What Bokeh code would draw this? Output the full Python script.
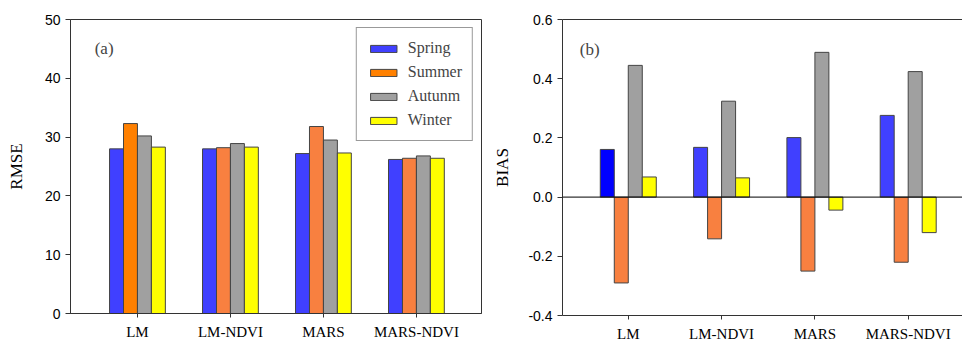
import numpy as np
from bokeh.plotting import figure
from bokeh.layouts import row
from bokeh.models import (Range1d, FixedTicker, Label, Span, ColumnDataSource,
                          Legend, LegendItem, LinearAxis, NumeralTickFormatter)
from bokeh.embed import file_html
from bokeh.resources import INLINE

# ---------------- data ----------------
models = ["LM", "LM-NDVI", "MARS", "MARS-NDVI"]
seasons = ["Spring", "Summer", "Autunm", "Winter"]

rmse_spring = [28.0, 28.0, 27.2, 26.2]
rmse_summer = [32.3, 28.2, 31.8, 26.4]
rmse_autumn = [30.2, 28.9, 29.5, 26.8]
rmse_winter = [28.3, 28.3, 27.3, 26.4]

bias_spring = [0.161, 0.168, 0.201, 0.276]
bias_summer = [-0.290, -0.141, -0.250, -0.220]
bias_autumn = [0.445, 0.324, 0.489, 0.424]
bias_winter = [0.068, 0.065, -0.044, -0.120]

rmse_ticks = [0, 10, 20, 30, 40, 50]
bias_ticks = [-0.4, -0.2, 0.0, 0.2, 0.4, 0.6]

# colours (per bar, the reference has slight shade differences)
spring_rmse_colors = ["#4040FF", "#4040FF", "#4040FF", "#4040FF"]
summer_rmse_colors = ["#FF8000", "#F88040", "#F88040", "#F88040"]
spring_bias_colors = ["#0000FF", "#4040FF", "#4040FF", "#4040FF"]
summer_bias_colors = ["#F88040", "#F88040", "#F88040", "#F88040"]
autumn_color = "#A0A0A0"
winter_color = "#FFFF00"

SERIF = "Liberation Serif"
SANS = "Liberation Sans"
BAR_W = 0.15
OFFSETS = [-0.225, -0.075, 0.075, 0.225]
xpos = np.arange(1, len(models) + 1)


def style(p, yticks, fmt=None):
    p.xgrid.visible = False
    p.ygrid.visible = False
    p.background_fill_color = "white"
    p.border_fill_color = "white"
    for ax in (p.xaxis[0], p.yaxis[0]):
        ax.axis_line_color = "#333333"
        ax.major_tick_line_color = "#333333"
        ax.minor_tick_line_color = None
        ax.major_tick_in = 0
    p.xaxis.ticker = FixedTicker(ticks=list(xpos))
    p.xaxis.major_label_overrides = {int(i): m for i, m in zip(xpos, models)}
    p.xaxis.major_label_text_font = SERIF
    p.xaxis.major_label_text_font_size = "15px"
    p.xaxis.major_label_text_font_style = "normal"
    p.xaxis.major_label_text_color = "black"
    p.xaxis.major_tick_out = 4
    p.xaxis.major_label_standoff = 6
    p.yaxis.ticker = FixedTicker(ticks=yticks)
    p.yaxis.major_tick_out = 5
    p.yaxis.major_label_standoff = 5
    p.yaxis.major_label_text_font = SANS
    p.yaxis.major_label_text_font_size = "14px"
    p.yaxis.major_label_text_font_style = "normal"
    p.yaxis.major_label_text_color = "black"
    p.yaxis.axis_label_text_font = SERIF
    p.yaxis.axis_label_text_font_size = "17px"
    p.yaxis.axis_label_text_font_style = "normal"
    p.yaxis.axis_label_text_color = "black"
    if fmt:
        p.yaxis.formatter = NumeralTickFormatter(format=fmt)


def bars(p, vals, colors):
    rs = []
    for k, (v, c) in enumerate(zip(vals, colors)):
        src = ColumnDataSource(dict(x=xpos + OFFSETS[k], top=v,
                                    color=c if isinstance(c, list) else [c] * len(v)))
        r = p.vbar(x="x", top="top", bottom=0, width=BAR_W, source=src,
                   fill_color="color", line_color="#444444", line_width=1)
        rs.append(r)
    return rs


# ---------------- left panel: RMSE ----------------
p1 = figure(frame_width=411, frame_height=294, output_backend="svg",
            toolbar_location=None,
            x_range=Range1d(0.28, 4.70), y_range=Range1d(0, 50),
            min_border_left=70, min_border_right=4,
            min_border_top=19, min_border_bottom=28)
p1.outline_line_color = "#333333"
style(p1, rmse_ticks)
p1.yaxis.axis_label = "RMSE"
p1.yaxis.axis_label_standoff = 16

r1 = bars(p1, [rmse_spring, rmse_summer, rmse_autumn, rmse_winter],
          [spring_rmse_colors, summer_rmse_colors, autumn_color, winter_color])

legend = Legend(items=[LegendItem(label=s, renderers=[r], index=0) for s, r in zip(seasons, r1)],
                location="top_right", margin=8, padding=10,
                glyph_width=33, glyph_height=9, label_height=20, spacing=4,
                label_standoff=8, label_text_font=SERIF, label_text_font_size="16px",
                border_line_color="#333333", border_line_width=1,
                background_fill_alpha=1.0)
p1.add_layout(legend)

p1.add_layout(Label(x=0.54, y=45, text="(a)", text_font=SERIF, text_font_size="17px",
                    text_baseline="middle", text_align="left"))

# ---------------- right panel: BIAS ----------------
p2 = figure(frame_width=400, frame_height=296, output_backend="svg",
            toolbar_location=None,
            x_range=Range1d(0.295, 4.582), y_range=Range1d(-0.4, 0.6),
            min_border_left=77, min_border_right=0,
            min_border_top=16, min_border_bottom=29)
p2.outline_line_color = None
style(p2, bias_ticks, fmt="0.0")
p2.yaxis.axis_label = "BIAS"
p2.yaxis.axis_label_standoff = 13
top_ax = LinearAxis(axis_line_color="#333333", major_tick_line_color=None,
                    minor_tick_line_color=None, major_label_text_font_size="0px",
                    ticker=FixedTicker(ticks=[]))
p2.add_layout(top_ax, "above")

bars(p2, [bias_spring, bias_summer, bias_autumn, bias_winter],
     [spring_bias_colors, summer_bias_colors, autumn_color, winter_color])
p2.add_layout(Span(location=0, dimension="width", line_color="black", line_width=1))
p2.add_layout(Label(x=0.48, y=0.50, text="(b)", text_font=SERIF, text_font_size="17px",
                    text_baseline="middle", text_align="left"))

layout = row(p1, p2, spacing=0)
open("out.html", "w").write(file_html(layout, INLINE))
